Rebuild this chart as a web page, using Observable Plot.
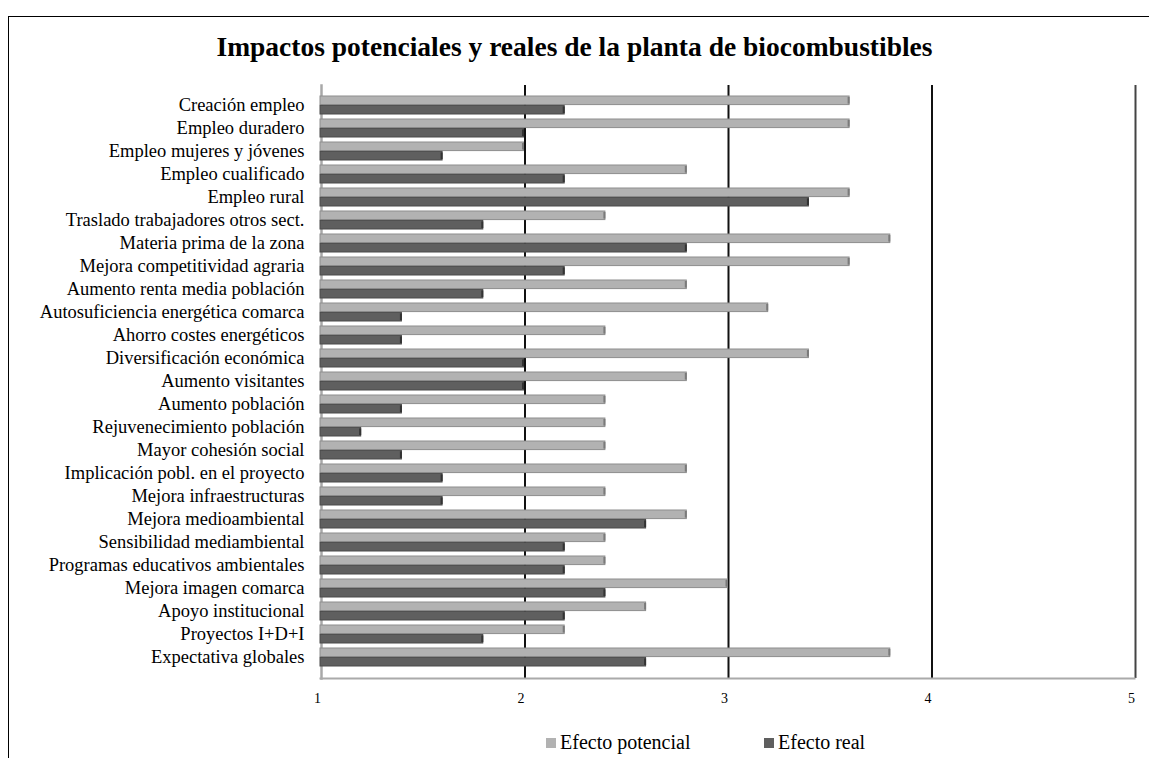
<!DOCTYPE html>
<html><head><meta charset="utf-8">
<script src="https://cdn.jsdelivr.net/npm/d3@7"></script>
<script src="https://cdn.jsdelivr.net/npm/@observablehq/plot@0.6"></script>
<style>
html,body{margin:0;padding:0;background:#fff;}
#wrap{position:relative;width:1149px;height:758px;overflow:hidden;font-family:"Liberation Serif","Times New Roman",serif;}
#frame{position:absolute;left:8px;top:16px;width:1200px;height:800px;border-left:1px solid #000;border-top:1px solid #000;}
#title{position:absolute;left:0;width:1149px;top:31px;text-align:center;font-weight:bold;font-size:27.5px;color:#000;white-space:nowrap;}
#legend{position:absolute;top:731px;left:0;width:1149px;font-size:20px;color:#000;}
.li{position:absolute;display:flex;align-items:center;white-space:nowrap;}
.sw{width:10px;height:10px;margin-right:4px;}
#chart{position:absolute;left:0;top:0;}
</style></head>
<body><div id="wrap"><div id="frame"></div><div id="chart"></div>
<div id="title">Impactos potenciales y reales de la planta de biocombustibles</div>
<div id="legend">
<div class="li" style="left:546px"><div class="sw" style="background:#b2b2b2"></div>Efecto potencial</div>
<div class="li" style="left:764px"><div class="sw" style="background:#5f5f5f"></div>Efecto real</div>
</div></div>
<script>
const categories = ["Creación empleo","Empleo duradero","Empleo mujeres y jóvenes","Empleo cualificado","Empleo rural","Traslado trabajadores otros sect.","Materia prima de la zona","Mejora competitividad agraria","Aumento renta media población","Autosuficiencia energética comarca","Ahorro costes energéticos","Diversificación económica","Aumento visitantes","Aumento población","Rejuvenecimiento población","Mayor cohesión social","Implicación pobl. en el proyecto","Mejora infraestructuras","Mejora medioambiental","Sensibilidad mediambiental","Programas educativos ambientales","Mejora imagen comarca","Apoyo institucional","Proyectos I+D+I","Expectativa globales"];
const potencial = [3.6,3.6,2.0,2.8,3.6,2.4,3.8,3.6,2.8,3.2,2.4,3.4,2.8,2.4,2.4,2.4,2.8,2.4,2.8,2.4,2.4,3.0,2.6,2.2,3.8];
const real =      [2.2,2.0,1.6,2.2,3.4,1.8,2.8,2.2,1.8,1.4,1.4,2.0,2.0,1.4,1.2,1.4,1.6,1.6,2.6,2.2,2.2,2.4,2.2,1.8,2.6];
const ticks = [1,2,3,4,5];

const W=1149,H=758,mT=85,mB=80,mL=320,mR=15,pad=0.2;
const step=(H-mT-mB)/(categories.length+pad);
const half=step*(1-pad)/2;
const rows = categories.map((c,i)=>({c,p:potencial[i],r:real[i]}));

const chart = Plot.plot({
  width:W,height:H,marginTop:mT,marginBottom:mB,marginLeft:mL,marginRight:mR,
  style:{fontFamily:"Liberation Serif, Times New Roman, serif",background:"transparent",color:"#000"},
  x:{domain:[1,5],ticks:ticks,tickSize:0,tickPadding:0},
  y:{domain:categories,padding:pad},
  marks:[
    Plot.ruleX(ticks.slice(1),{stroke:d=>d===5?"#444":"#111",strokeWidth:2,dx:1}),
    Plot.frame({anchor:"left",stroke:"#a8a8a8",strokeWidth:2.5,dx:1}),
    Plot.frame({anchor:"bottom",stroke:"#aaa",strokeWidth:2}),
    Plot.barX(rows,{x1:1,x2:"p",y:"c",insetBottom:half,fill:"#b2b2b2",stroke:"#8e8e8e",strokeWidth:1}),
    Plot.barX(rows,{x1:1,x2:"r",y:"c",insetTop:half,fill:"#5f5f5f",stroke:"#4a4a4a",strokeWidth:1}),
    Plot.tickX(rows,{x:"p",y:"c",insetBottom:half+1,insetTop:1,stroke:"#7a7a7a",strokeWidth:2,dx:-1}),
    Plot.tickX(rows,{x:"r",y:"c",insetTop:half+1,insetBottom:1,stroke:"#333",strokeWidth:2,dx:-1}),
    Plot.axisY({tickSize:0,tickPadding:16,fontSize:18.5,label:null}),
    Plot.axisX({ticks:ticks,tickSize:0,tickPadding:15,fontSize:14,label:null,dx:-3,tickFormat:d3.format("d")})
  ]
});
document.getElementById("chart").appendChild(chart);
</script></body></html>
